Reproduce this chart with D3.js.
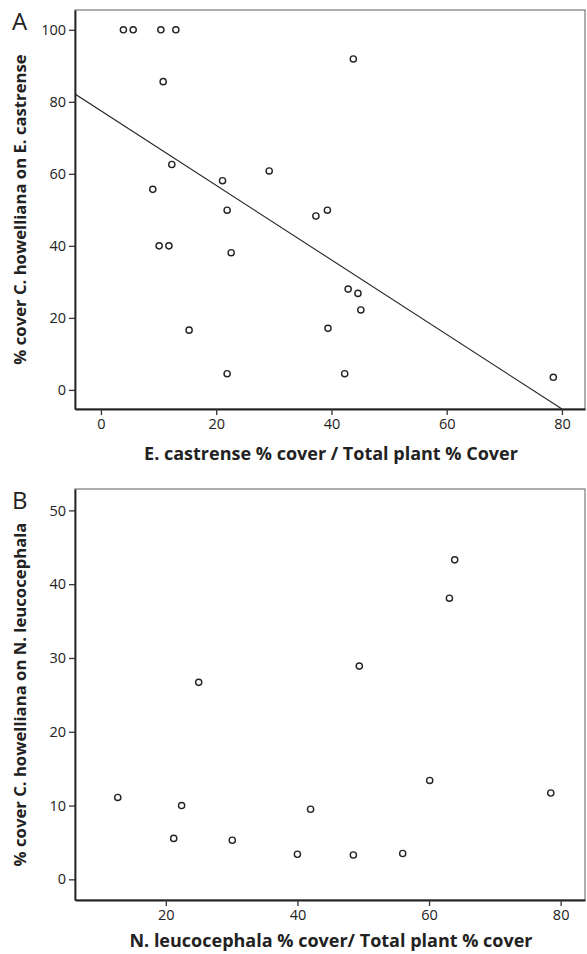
<!doctype html>
<html lang="en">
  <head>
    <meta charset="utf-8">
    <title>C. howelliana cover scatterplots</title>
    <style>
      body { margin: 0; background: #fff; }
      svg text { font-family: "Open Sans", "DejaVu Sans", sans-serif; fill: #222; }
      .tick text { font-size: 14.5px; }
      .tick line { stroke: #333; stroke-width: 1.3; }
      .axis-title { font-size: 18px; font-weight: bold; }
      .y-title { font-size: 16.7px; }
      .panel-letter { font-size: 24px; font-weight: normal; }
    </style>
  </head>
  <body>
    <div id="chart"></div>

    <script src="https://cdn.jsdelivr.net/npm/d3@7"></script>
    <script>
      // panel A: E. castrense
      const aRatio = [3.9, 5.6, 10.4, 13.0, 10.8, 12.3, 9.0, 21.1, 21.9, 29.2, 10.1, 11.8,
                      43.8, 37.3, 39.3, 22.6, 15.3, 21.9, 42.9, 44.6, 45.1, 39.4, 42.3, 78.5];
      const aCover = [100, 100, 100, 100, 85.6, 62.6, 55.7, 58.1, 49.9, 60.8, 40.0, 40.0,
                      91.9, 48.3, 49.9, 38.1, 16.6, 4.5, 28.0, 26.8, 22.2, 17.1, 4.5, 3.5];
      const aXTicks = [0, 20, 40, 60, 80];
      const aYTicks = [0, 20, 40, 60, 80, 100];
      // fitted line for panel A
      const aIntercept = 77.5;
      const aSlope = -1.035;

      // panel B: N. leucocephala
      const bRatio = [25.0, 63.9, 63.1, 49.4, 12.7, 22.4, 21.2, 30.1, 40.0, 42.0, 48.5, 56.0, 60.1, 78.5];
      const bCover = [26.7, 43.3, 38.1, 28.9, 11.1, 10.0, 5.55, 5.3, 3.4, 9.5, 3.3, 3.5, 13.4, 11.7];
      const bXTicks = [20, 40, 60, 80];
      const bYTicks = [0, 10, 20, 30, 40, 50];

      const width = 587, height = 954;
      const left = 75, right = 585;

      const svg = d3.select("#chart").append("svg")
        .attr("width", width)
        .attr("height", height);

      function drawPanel(cfg) {
        const x = d3.scaleLinear().domain(cfg.xDomain).range([left, right]);
        const y = d3.scaleLinear().domain(cfg.yDomain).range([cfg.bottom, cfg.top]);
        const g = svg.append("g");

        //light frame round the plot
        g.append("rect")
          .attr("x", left).attr("y", cfg.top)
          .attr("width", right - left).attr("height", cfg.bottom - cfg.top)
          .attr("fill", "none")
          .attr("stroke", "#777")
          .attr("stroke-width", 1.2);

        g.append("g")
          .attr("transform", "translate(0," + cfg.bottom + ")")
          .call(d3.axisBottom(x).tickValues(cfg.xTicks).tickSize(6).tickSizeOuter(0).tickPadding(4))
          .call(a => a.select(".domain").attr("stroke", "#222").attr("stroke-width", 1.8));

        g.append("g")
          .attr("transform", "translate(" + left + ",0)")
          .call(d3.axisLeft(y).tickValues(cfg.yTicks).tickSize(6).tickSizeOuter(0).tickPadding(3))
          .call(a => a.select(".domain").attr("stroke", "#222").attr("stroke-width", 1.8));

        if (cfg.fit) {
          const clipId = "clip" + cfg.letter;
          svg.append("clipPath").attr("id", clipId)
            .append("rect")
            .attr("x", left).attr("y", cfg.top)
            .attr("width", right - left).attr("height", cfg.bottom - cfg.top);
          const x0 = cfg.xDomain[0];
          const x1 = (cfg.yDomain[0] - cfg.fit.b) / cfg.fit.m; // where the line meets the bottom
          g.append("line")
            .attr("clip-path", "url(#" + clipId + ")")
            .attr("x1", x(x0)).attr("y1", y(cfg.fit.b + cfg.fit.m * x0))
            .attr("x2", x(x1)).attr("y2", y(cfg.fit.b + cfg.fit.m * x1))
            .attr("stroke", "#222")
            .attr("stroke-width", 1.1);
        }

        g.selectAll("circle")
          .data(d3.zip(cfg.xs, cfg.ys))
          .enter().append("circle")
          .attr("cx", d => x(d[0]))
          .attr("cy", d => y(d[1]))
          .attr("r", 3.1)
          .attr("fill", "#fff")
          .attr("stroke", "#222")
          .attr("stroke-width", 1.4);

        g.append("text")
          .attr("class", "axis-title")
          .attr("x", 331)
          .attr("y", cfg.bottom + cfg.titleGap)
          .attr("text-anchor", "middle")
          .text(cfg.xTitle);

        g.append("text")
          .attr("class", "axis-title y-title")
          .attr("transform", "translate(26," + ((cfg.top + cfg.bottom) / 2) + ") rotate(-90)")
          .attr("text-anchor", "middle")
          .text(cfg.yTitle);

        g.append("text")
          .attr("class", "panel-letter")
          .attr("x", 12)
          .attr("y", cfg.top + 20)
          .text(cfg.letter);
      }

      drawPanel({
        letter: "A",
        top: 10, bottom: 409, titleGap: 51,
        xDomain: [-4.5, 84], yDomain: [-5.3, 105.5],
        xTicks: aXTicks, yTicks: aYTicks,
        xs: aRatio, ys: aCover,
        fit: { b: aIntercept, m: aSlope },
        xTitle: "E. castrense % cover / Total plant % Cover",
        yTitle: "% cover C. howelliana on E. castrense"
      });

      drawPanel({
        letter: "B",
        top: 489, bottom: 900, titleGap: 47,
        xDomain: [6.2, 83.7], yDomain: [-2.8, 52.9],
        xTicks: bXTicks, yTicks: bYTicks,
        xs: bRatio, ys: bCover,
        xTitle: "N. leucocephala % cover/ Total plant % cover",
        yTitle: "% cover C. howelliana on N. leucocephala"
      });
    </script>
  </body>
</html>
